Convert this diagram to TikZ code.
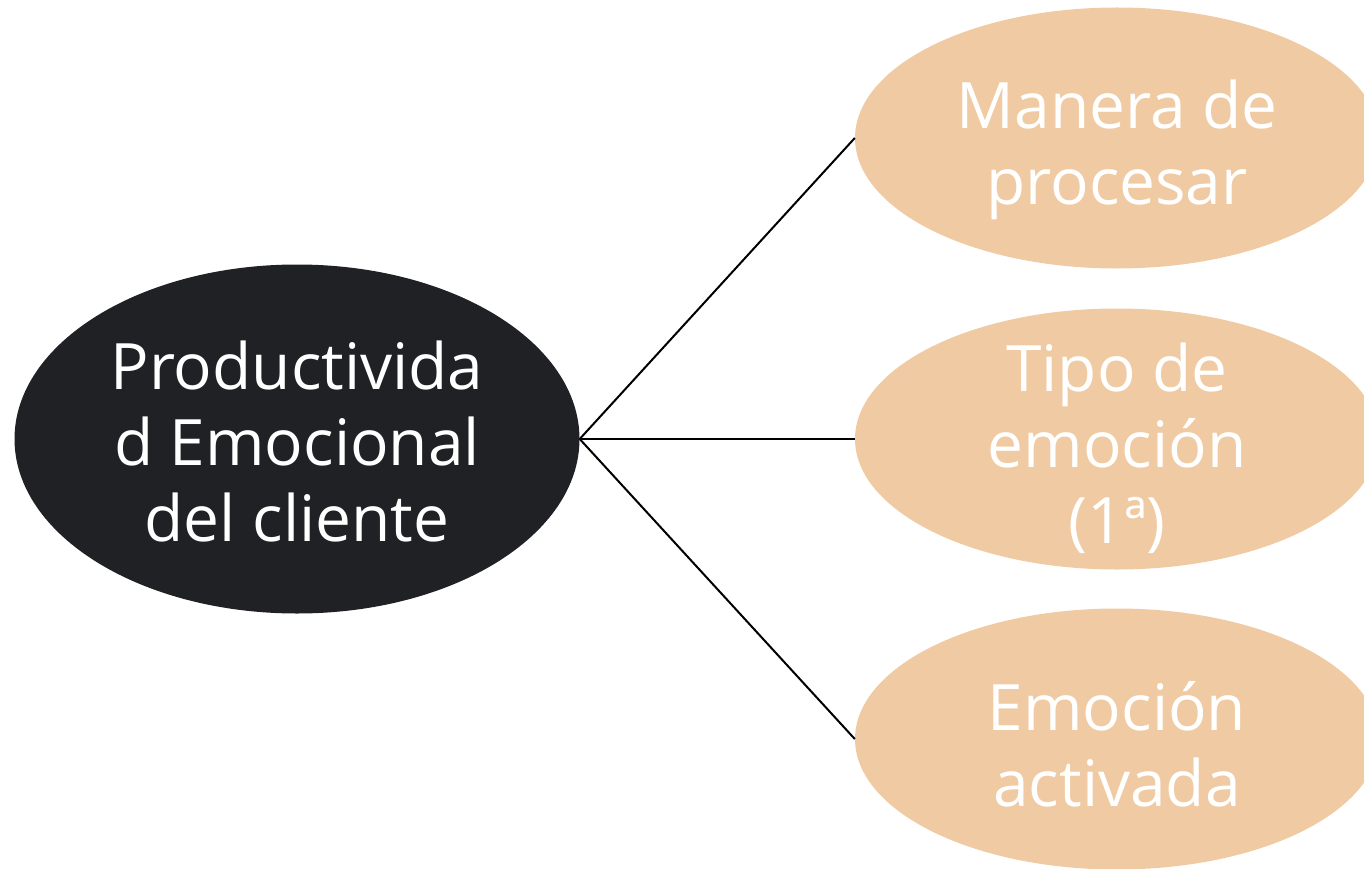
\documentclass[tikz,border=0pt]{standalone}
\usepackage{fontspec}
\setmainfont{Open Sans}
\usetikzlibrary{shapes.geometric}
\definecolor{nightink}{HTML}{202125}
\definecolor{peach}{HTML}{F0CAA2}
\tikzset{
	root/.style={ellipse, fill=nightink, inner sep=0pt, minimum width=565pt, minimum height=349pt},
	leaf/.style={ellipse, fill=peach, inner sep=0pt, minimum width=524pt, minimum height=261pt},
	caption/.style={text=white, align=center, font=\fontsize{64}{76}\selectfont},
	branch/.style={line width=2pt, black},
}
\begin{document}
\begin{tikzpicture}[x=1pt,y=-1pt]
\path[use as bounding box, clip] (0,0) rectangle (1364,869);

\node[root] (prod) at (297,439) {};
\node[caption] (prodtext) at (297,441) {Productivida\\d Emocional\\del cliente};

\node[leaf] (manera) at (1117,138) {};
\node[caption] (maneratext) at (1117,150) {Manera de\\procesar};
\node[leaf] (tipo) at (1117,439) {};
\node[caption] (tipotext) at (1117,448) {Tipo de\\emoción\\(1ª)};
\node[leaf] (activada) at (1117,739) {};
\node[caption] (activadatext) at (1117,744) {Emoción\\activada};

\draw[branch] (prod.east) -- (manera.west);
\draw[branch] (prod.east) -- (tipo.west);
\draw[branch] (prod.east) -- (activada.west);
\end{tikzpicture}
\end{document}
